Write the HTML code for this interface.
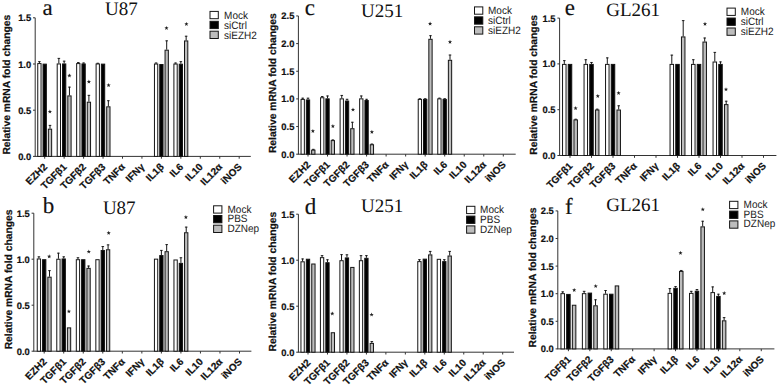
<!DOCTYPE html>
<html><head><meta charset="utf-8"><style>
html,body{margin:0;padding:0;background:#fff;}
body{width:778px;height:385px;overflow:hidden;}
svg{display:block;}
#wrap{}
text{text-rendering:geometricPrecision;}
.tk{font-family:'Liberation Sans', sans-serif;font-weight:bold;font-size:9.4px;text-anchor:end;fill:#111;stroke:#111;stroke-width:0.2px;}
.xl{font-family:'Liberation Sans', sans-serif;font-weight:bold;font-size:10px;text-anchor:end;fill:#111;stroke:#111;stroke-width:0.2px;}
.yl{font-family:'Liberation Sans', sans-serif;font-weight:bold;font-size:10.3px;text-anchor:middle;fill:#111;stroke:#111;stroke-width:0.2px;}
.lg{font-family:'Liberation Sans', sans-serif;font-size:10px;fill:#1a1a1a;}
.let{font-family:'Liberation Serif', serif;font-size:23px;fill:#111;stroke:#111;stroke-width:0.15px;}
.ttl{font-family:'Liberation Serif', serif;font-size:19px;fill:#111;}
</style></head><body>
<div id="wrap"><svg width="778" height="385" viewBox="0 0 778 385">
<rect width="778" height="385" fill="#fff"/>
<line x1="35.2" y1="17.8" x2="35.2" y2="156.4" stroke="#333" stroke-width="1"/>
<line x1="33" y1="156.4" x2="35.2" y2="156.4" stroke="#333" stroke-width="1"/>
<text x="31.2" y="159.9" class="tk">0.0</text>
<line x1="33" y1="110.2" x2="35.2" y2="110.2" stroke="#333" stroke-width="1"/>
<text x="31.2" y="113.7" class="tk">0.5</text>
<line x1="33" y1="64" x2="35.2" y2="64" stroke="#333" stroke-width="1"/>
<text x="31.2" y="67.5" class="tk">1.0</text>
<line x1="33" y1="17.8" x2="35.2" y2="17.8" stroke="#333" stroke-width="1"/>
<text x="31.2" y="21.3" class="tk">1.5</text>
<line x1="34.7" y1="156.4" x2="250.8" y2="156.4" stroke="#333" stroke-width="1"/>
<line x1="44.7" y1="156.4" x2="44.7" y2="158.7" stroke="#333" stroke-width="1"/>
<text transform="translate(47.9,167.5) rotate(-45)" class="xl">EZH2</text>
<line x1="39.4" y1="61.23" x2="39.4" y2="63.08" stroke="#151515" stroke-width="1"/>
<line x1="38.1" y1="61.63" x2="40.7" y2="61.63" stroke="#151515" stroke-width="0.9"/>
<rect x="37.75" y="63.58" width="3.3" height="92.82" fill="#fff" stroke="#151515" stroke-width="1"/>
<rect x="43.05" y="64.13" width="3.3" height="92.27" fill="#000" stroke="#151515" stroke-width="1"/>
<line x1="50" y1="124.98" x2="50" y2="128.68" stroke="#151515" stroke-width="1"/>
<line x1="48.7" y1="125.38" x2="51.3" y2="125.38" stroke="#151515" stroke-width="0.9"/>
<rect x="48.35" y="129.18" width="3.3" height="27.22" fill="#bdbdbd" stroke="#151515" stroke-width="1"/>
<line x1="64.15" y1="156.4" x2="64.15" y2="158.7" stroke="#333" stroke-width="1"/>
<text transform="translate(67.35,167.5) rotate(-45)" class="xl">TGFβ1</text>
<line x1="58.85" y1="57.99" x2="58.85" y2="63.45" stroke="#151515" stroke-width="1"/>
<line x1="57.55" y1="58.39" x2="60.15" y2="58.39" stroke="#151515" stroke-width="0.9"/>
<rect x="57.2" y="63.95" width="3.3" height="92.45" fill="#fff" stroke="#151515" stroke-width="1"/>
<line x1="64.15" y1="60.77" x2="64.15" y2="63.45" stroke="#151515" stroke-width="1"/>
<line x1="62.85" y1="61.17" x2="65.45" y2="61.17" stroke="#151515" stroke-width="0.9"/>
<rect x="62.5" y="63.95" width="3.3" height="92.45" fill="#000" stroke="#151515" stroke-width="1"/>
<line x1="69.45" y1="86.73" x2="69.45" y2="95.42" stroke="#151515" stroke-width="1"/>
<line x1="68.15" y1="87.13" x2="70.75" y2="87.13" stroke="#151515" stroke-width="0.9"/>
<rect x="67.8" y="95.92" width="3.3" height="60.48" fill="#bdbdbd" stroke="#151515" stroke-width="1"/>
<line x1="83.6" y1="156.4" x2="83.6" y2="158.7" stroke="#333" stroke-width="1"/>
<text transform="translate(86.8,167.5) rotate(-45)" class="xl">TGFβ2</text>
<line x1="78.3" y1="62.15" x2="78.3" y2="63.08" stroke="#151515" stroke-width="1"/>
<line x1="77" y1="62.55" x2="79.6" y2="62.55" stroke="#151515" stroke-width="0.9"/>
<rect x="76.65" y="63.58" width="3.3" height="92.82" fill="#fff" stroke="#151515" stroke-width="1"/>
<line x1="83.6" y1="62.61" x2="83.6" y2="63.45" stroke="#151515" stroke-width="1"/>
<line x1="82.3" y1="63.01" x2="84.9" y2="63.01" stroke="#151515" stroke-width="0.9"/>
<rect x="81.95" y="63.95" width="3.3" height="92.45" fill="#000" stroke="#151515" stroke-width="1"/>
<line x1="88.9" y1="94.95" x2="88.9" y2="101.7" stroke="#151515" stroke-width="1"/>
<line x1="87.6" y1="95.35" x2="90.2" y2="95.35" stroke="#151515" stroke-width="0.9"/>
<rect x="87.25" y="102.2" width="3.3" height="54.2" fill="#bdbdbd" stroke="#151515" stroke-width="1"/>
<line x1="103.05" y1="156.4" x2="103.05" y2="158.7" stroke="#333" stroke-width="1"/>
<text transform="translate(106.25,167.5) rotate(-45)" class="xl">TGFβ3</text>
<line x1="97.75" y1="62.89" x2="97.75" y2="63.45" stroke="#151515" stroke-width="1"/>
<line x1="96.45" y1="63.29" x2="99.05" y2="63.29" stroke="#151515" stroke-width="0.9"/>
<rect x="96.1" y="63.95" width="3.3" height="92.45" fill="#fff" stroke="#151515" stroke-width="1"/>
<rect x="101.4" y="64.13" width="3.3" height="92.27" fill="#000" stroke="#151515" stroke-width="1"/>
<line x1="108.35" y1="100.31" x2="108.35" y2="106.32" stroke="#151515" stroke-width="1"/>
<line x1="107.05" y1="100.71" x2="109.65" y2="100.71" stroke="#151515" stroke-width="0.9"/>
<rect x="106.7" y="106.82" width="3.3" height="49.58" fill="#bdbdbd" stroke="#151515" stroke-width="1"/>
<line x1="122.5" y1="156.4" x2="122.5" y2="158.7" stroke="#333" stroke-width="1"/>
<text transform="translate(125.7,167.5) rotate(-45)" class="xl">TNFα</text>
<line x1="141.95" y1="156.4" x2="141.95" y2="158.7" stroke="#333" stroke-width="1"/>
<text transform="translate(145.15,167.5) rotate(-45)" class="xl">IFNγ</text>
<line x1="161.4" y1="156.4" x2="161.4" y2="158.7" stroke="#333" stroke-width="1"/>
<text transform="translate(164.6,167.5) rotate(-45)" class="xl">IL1β</text>
<line x1="156.1" y1="62.61" x2="156.1" y2="63.54" stroke="#151515" stroke-width="1"/>
<line x1="154.8" y1="63.01" x2="157.4" y2="63.01" stroke="#151515" stroke-width="0.9"/>
<rect x="154.45" y="64.04" width="3.3" height="92.36" fill="#fff" stroke="#151515" stroke-width="1"/>
<rect x="159.75" y="64.5" width="3.3" height="91.9" fill="#000" stroke="#151515" stroke-width="1"/>
<line x1="166.7" y1="40.44" x2="166.7" y2="49.68" stroke="#151515" stroke-width="1"/>
<line x1="165.4" y1="40.84" x2="168" y2="40.84" stroke="#151515" stroke-width="0.9"/>
<rect x="165.05" y="50.18" width="3.3" height="106.22" fill="#bdbdbd" stroke="#151515" stroke-width="1"/>
<line x1="180.85" y1="156.4" x2="180.85" y2="158.7" stroke="#333" stroke-width="1"/>
<text transform="translate(184.05,167.5) rotate(-45)" class="xl">IL6</text>
<line x1="175.55" y1="62.61" x2="175.55" y2="63.54" stroke="#151515" stroke-width="1"/>
<line x1="174.25" y1="63.01" x2="176.85" y2="63.01" stroke="#151515" stroke-width="0.9"/>
<rect x="173.9" y="64.04" width="3.3" height="92.36" fill="#fff" stroke="#151515" stroke-width="1"/>
<line x1="180.85" y1="61.23" x2="180.85" y2="63.72" stroke="#151515" stroke-width="1"/>
<line x1="179.55" y1="61.63" x2="182.15" y2="61.63" stroke="#151515" stroke-width="0.9"/>
<rect x="179.2" y="64.22" width="3.3" height="92.18" fill="#000" stroke="#151515" stroke-width="1"/>
<line x1="186.15" y1="35.82" x2="186.15" y2="40.44" stroke="#151515" stroke-width="1"/>
<line x1="184.85" y1="36.22" x2="187.45" y2="36.22" stroke="#151515" stroke-width="0.9"/>
<rect x="184.5" y="40.94" width="3.3" height="115.46" fill="#bdbdbd" stroke="#151515" stroke-width="1"/>
<line x1="200.3" y1="156.4" x2="200.3" y2="158.7" stroke="#333" stroke-width="1"/>
<text transform="translate(203.5,167.5) rotate(-45)" class="xl">IL10</text>
<line x1="219.75" y1="156.4" x2="219.75" y2="158.7" stroke="#333" stroke-width="1"/>
<text transform="translate(222.95,167.5) rotate(-45)" class="xl">IL12α</text>
<line x1="239.2" y1="156.4" x2="239.2" y2="158.7" stroke="#333" stroke-width="1"/>
<text transform="translate(242.4,167.5) rotate(-45)" class="xl">iNOS</text>
<path transform="translate(49.9,111.7)" d="M0,-2.2 L0.55,-0.75 L2.1,-0.7 L0.9,0.25 L1.3,1.8 L0,0.9 L-1.3,1.8 L-0.9,0.25 L-2.1,-0.7 L-0.55,-0.75 Z" fill="#222"/>
<path transform="translate(69.4,75.6)" d="M0,-2.2 L0.55,-0.75 L2.1,-0.7 L0.9,0.25 L1.3,1.8 L0,0.9 L-1.3,1.8 L-0.9,0.25 L-2.1,-0.7 L-0.55,-0.75 Z" fill="#222"/>
<path transform="translate(88.9,81.8)" d="M0,-2.2 L0.55,-0.75 L2.1,-0.7 L0.9,0.25 L1.3,1.8 L0,0.9 L-1.3,1.8 L-0.9,0.25 L-2.1,-0.7 L-0.55,-0.75 Z" fill="#222"/>
<path transform="translate(108.6,85.3)" d="M0,-2.2 L0.55,-0.75 L2.1,-0.7 L0.9,0.25 L1.3,1.8 L0,0.9 L-1.3,1.8 L-0.9,0.25 L-2.1,-0.7 L-0.55,-0.75 Z" fill="#222"/>
<path transform="translate(166.5,28.1)" d="M0,-2.2 L0.55,-0.75 L2.1,-0.7 L0.9,0.25 L1.3,1.8 L0,0.9 L-1.3,1.8 L-0.9,0.25 L-2.1,-0.7 L-0.55,-0.75 Z" fill="#222"/>
<path transform="translate(186.4,24.1)" d="M0,-2.2 L0.55,-0.75 L2.1,-0.7 L0.9,0.25 L1.3,1.8 L0,0.9 L-1.3,1.8 L-0.9,0.25 L-2.1,-0.7 L-0.55,-0.75 Z" fill="#222"/>
<text x="42.4" y="14.9" class="let">a</text>
<text x="105" y="15.3" class="ttl">U87</text>
<rect x="210" y="11.4" width="8.3" height="7.3" fill="#fff" stroke="#151515" stroke-width="1"/>
<text transform="translate(224.1,18.7) scale(1,1.07)" class="lg">Mock</text>
<rect x="210" y="21.3" width="8.3" height="7.3" fill="#000" stroke="#151515" stroke-width="1"/>
<text transform="translate(224.1,28.6) scale(1,1.07)" class="lg">siCtrl</text>
<rect x="210" y="31.2" width="8.3" height="7.3" fill="#bdbdbd" stroke="#151515" stroke-width="1"/>
<text transform="translate(224.1,38.5) scale(1,1.07)" class="lg">siEZH2</text>
<text transform="translate(10.3,84.7) rotate(-90)" class="yl">Relative mRNA fold changes</text>
<line x1="298.4" y1="15.95" x2="298.4" y2="154.2" stroke="#333" stroke-width="1"/>
<line x1="296.2" y1="154.2" x2="298.4" y2="154.2" stroke="#333" stroke-width="1"/>
<text x="294.4" y="157.7" class="tk">0.0</text>
<line x1="296.2" y1="126.55" x2="298.4" y2="126.55" stroke="#333" stroke-width="1"/>
<text x="294.4" y="130.05" class="tk">0.5</text>
<line x1="296.2" y1="98.9" x2="298.4" y2="98.9" stroke="#333" stroke-width="1"/>
<text x="294.4" y="102.4" class="tk">1.0</text>
<line x1="296.2" y1="71.25" x2="298.4" y2="71.25" stroke="#333" stroke-width="1"/>
<text x="294.4" y="74.75" class="tk">1.5</text>
<line x1="296.2" y1="43.6" x2="298.4" y2="43.6" stroke="#333" stroke-width="1"/>
<text x="294.4" y="47.1" class="tk">2.0</text>
<line x1="296.2" y1="15.95" x2="298.4" y2="15.95" stroke="#333" stroke-width="1"/>
<text x="294.4" y="19.45" class="tk">2.5</text>
<line x1="297.9" y1="154.2" x2="515.7" y2="154.2" stroke="#333" stroke-width="1"/>
<line x1="308" y1="154.2" x2="308" y2="156.5" stroke="#333" stroke-width="1"/>
<text transform="translate(311.2,165.3) rotate(-45)" class="xl">EZH2</text>
<line x1="302.7" y1="97.79" x2="302.7" y2="98.9" stroke="#151515" stroke-width="1"/>
<line x1="301.4" y1="98.19" x2="304" y2="98.19" stroke="#151515" stroke-width="0.9"/>
<rect x="301.05" y="99.4" width="3.3" height="54.8" fill="#fff" stroke="#151515" stroke-width="1"/>
<line x1="308" y1="97.79" x2="308" y2="99.45" stroke="#151515" stroke-width="1"/>
<line x1="306.7" y1="98.19" x2="309.3" y2="98.19" stroke="#151515" stroke-width="0.9"/>
<rect x="306.35" y="99.95" width="3.3" height="54.25" fill="#000" stroke="#151515" stroke-width="1"/>
<line x1="313.3" y1="148.95" x2="313.3" y2="149.61" stroke="#151515" stroke-width="1"/>
<line x1="312" y1="149.35" x2="314.6" y2="149.35" stroke="#151515" stroke-width="0.9"/>
<rect x="311.65" y="150.11" width="3.3" height="4.09" fill="#bdbdbd" stroke="#151515" stroke-width="1"/>
<line x1="327.53" y1="154.2" x2="327.53" y2="156.5" stroke="#333" stroke-width="1"/>
<text transform="translate(330.73,165.3) rotate(-45)" class="xl">TGFβ1</text>
<line x1="322.23" y1="96.13" x2="322.23" y2="97.24" stroke="#151515" stroke-width="1"/>
<line x1="320.93" y1="96.53" x2="323.53" y2="96.53" stroke="#151515" stroke-width="0.9"/>
<rect x="320.58" y="97.74" width="3.3" height="56.46" fill="#fff" stroke="#151515" stroke-width="1"/>
<line x1="327.53" y1="95.58" x2="327.53" y2="98.35" stroke="#151515" stroke-width="1"/>
<line x1="326.23" y1="95.98" x2="328.83" y2="95.98" stroke="#151515" stroke-width="0.9"/>
<rect x="325.88" y="98.85" width="3.3" height="55.35" fill="#000" stroke="#151515" stroke-width="1"/>
<line x1="332.83" y1="139.55" x2="332.83" y2="140.1" stroke="#151515" stroke-width="1"/>
<line x1="331.53" y1="139.95" x2="334.13" y2="139.95" stroke="#151515" stroke-width="0.9"/>
<rect x="331.18" y="140.6" width="3.3" height="13.6" fill="#bdbdbd" stroke="#151515" stroke-width="1"/>
<line x1="347.06" y1="154.2" x2="347.06" y2="156.5" stroke="#333" stroke-width="1"/>
<text transform="translate(350.26,165.3) rotate(-45)" class="xl">TGFβ2</text>
<line x1="341.76" y1="95.03" x2="341.76" y2="98.35" stroke="#151515" stroke-width="1"/>
<line x1="340.46" y1="95.43" x2="343.06" y2="95.43" stroke="#151515" stroke-width="0.9"/>
<rect x="340.11" y="98.85" width="3.3" height="55.35" fill="#fff" stroke="#151515" stroke-width="1"/>
<line x1="347.06" y1="98.9" x2="347.06" y2="100.56" stroke="#151515" stroke-width="1"/>
<line x1="345.76" y1="99.3" x2="348.36" y2="99.3" stroke="#151515" stroke-width="0.9"/>
<rect x="345.41" y="101.06" width="3.3" height="53.14" fill="#000" stroke="#151515" stroke-width="1"/>
<line x1="352.36" y1="121.85" x2="352.36" y2="128.21" stroke="#151515" stroke-width="1"/>
<line x1="351.06" y1="122.25" x2="353.66" y2="122.25" stroke="#151515" stroke-width="0.9"/>
<rect x="350.71" y="128.71" width="3.3" height="25.49" fill="#bdbdbd" stroke="#151515" stroke-width="1"/>
<line x1="366.59" y1="154.2" x2="366.59" y2="156.5" stroke="#333" stroke-width="1"/>
<text transform="translate(369.79,165.3) rotate(-45)" class="xl">TGFβ3</text>
<line x1="361.29" y1="95.58" x2="361.29" y2="98.35" stroke="#151515" stroke-width="1"/>
<line x1="359.99" y1="95.98" x2="362.59" y2="95.98" stroke="#151515" stroke-width="0.9"/>
<rect x="359.64" y="98.85" width="3.3" height="55.35" fill="#fff" stroke="#151515" stroke-width="1"/>
<line x1="366.59" y1="98.9" x2="366.59" y2="100.01" stroke="#151515" stroke-width="1"/>
<line x1="365.29" y1="99.3" x2="367.89" y2="99.3" stroke="#151515" stroke-width="0.9"/>
<rect x="364.94" y="100.51" width="3.3" height="53.69" fill="#000" stroke="#151515" stroke-width="1"/>
<line x1="371.89" y1="143.69" x2="371.89" y2="144.25" stroke="#151515" stroke-width="1"/>
<line x1="370.59" y1="144.09" x2="373.19" y2="144.09" stroke="#151515" stroke-width="0.9"/>
<rect x="370.24" y="144.75" width="3.3" height="9.45" fill="#bdbdbd" stroke="#151515" stroke-width="1"/>
<line x1="386.12" y1="154.2" x2="386.12" y2="156.5" stroke="#333" stroke-width="1"/>
<text transform="translate(389.32,165.3) rotate(-45)" class="xl">TNFα</text>
<line x1="405.65" y1="154.2" x2="405.65" y2="156.5" stroke="#333" stroke-width="1"/>
<text transform="translate(408.85,165.3) rotate(-45)" class="xl">IFNγ</text>
<line x1="425.18" y1="154.2" x2="425.18" y2="156.5" stroke="#333" stroke-width="1"/>
<text transform="translate(428.38,165.3) rotate(-45)" class="xl">IL1β</text>
<line x1="419.88" y1="98.35" x2="419.88" y2="98.9" stroke="#151515" stroke-width="1"/>
<line x1="418.58" y1="98.75" x2="421.18" y2="98.75" stroke="#151515" stroke-width="0.9"/>
<rect x="418.23" y="99.4" width="3.3" height="54.8" fill="#fff" stroke="#151515" stroke-width="1"/>
<line x1="425.18" y1="98.35" x2="425.18" y2="98.9" stroke="#151515" stroke-width="1"/>
<line x1="423.88" y1="98.75" x2="426.48" y2="98.75" stroke="#151515" stroke-width="0.9"/>
<rect x="423.53" y="99.4" width="3.3" height="54.8" fill="#000" stroke="#151515" stroke-width="1"/>
<line x1="430.48" y1="35.3" x2="430.48" y2="38.79" stroke="#151515" stroke-width="1"/>
<line x1="429.18" y1="35.7" x2="431.78" y2="35.7" stroke="#151515" stroke-width="0.9"/>
<rect x="428.83" y="39.29" width="3.3" height="114.91" fill="#bdbdbd" stroke="#151515" stroke-width="1"/>
<line x1="444.71" y1="154.2" x2="444.71" y2="156.5" stroke="#333" stroke-width="1"/>
<text transform="translate(447.91,165.3) rotate(-45)" class="xl">IL6</text>
<line x1="439.41" y1="97.79" x2="439.41" y2="98.35" stroke="#151515" stroke-width="1"/>
<line x1="438.11" y1="98.19" x2="440.71" y2="98.19" stroke="#151515" stroke-width="0.9"/>
<rect x="437.76" y="98.85" width="3.3" height="55.35" fill="#fff" stroke="#151515" stroke-width="1"/>
<line x1="444.71" y1="98.35" x2="444.71" y2="98.9" stroke="#151515" stroke-width="1"/>
<line x1="443.41" y1="98.75" x2="446.01" y2="98.75" stroke="#151515" stroke-width="0.9"/>
<rect x="443.06" y="99.4" width="3.3" height="54.8" fill="#000" stroke="#151515" stroke-width="1"/>
<line x1="450.01" y1="54.66" x2="450.01" y2="59.8" stroke="#151515" stroke-width="1"/>
<line x1="448.71" y1="55.06" x2="451.31" y2="55.06" stroke="#151515" stroke-width="0.9"/>
<rect x="448.36" y="60.3" width="3.3" height="93.9" fill="#bdbdbd" stroke="#151515" stroke-width="1"/>
<line x1="464.24" y1="154.2" x2="464.24" y2="156.5" stroke="#333" stroke-width="1"/>
<text transform="translate(467.44,165.3) rotate(-45)" class="xl">IL10</text>
<line x1="483.77" y1="154.2" x2="483.77" y2="156.5" stroke="#333" stroke-width="1"/>
<text transform="translate(486.97,165.3) rotate(-45)" class="xl">IL12α</text>
<line x1="503.3" y1="154.2" x2="503.3" y2="156.5" stroke="#333" stroke-width="1"/>
<text transform="translate(506.5,165.3) rotate(-45)" class="xl">iNOS</text>
<path transform="translate(312.9,131.1)" d="M0,-2.2 L0.55,-0.75 L2.1,-0.7 L0.9,0.25 L1.3,1.8 L0,0.9 L-1.3,1.8 L-0.9,0.25 L-2.1,-0.7 L-0.55,-0.75 Z" fill="#222"/>
<path transform="translate(332.9,126.3)" d="M0,-2.2 L0.55,-0.75 L2.1,-0.7 L0.9,0.25 L1.3,1.8 L0,0.9 L-1.3,1.8 L-0.9,0.25 L-2.1,-0.7 L-0.55,-0.75 Z" fill="#222"/>
<path transform="translate(353,109.7)" d="M0,-2.2 L0.55,-0.75 L2.1,-0.7 L0.9,0.25 L1.3,1.8 L0,0.9 L-1.3,1.8 L-0.9,0.25 L-2.1,-0.7 L-0.55,-0.75 Z" fill="#222"/>
<path transform="translate(371.9,132)" d="M0,-2.2 L0.55,-0.75 L2.1,-0.7 L0.9,0.25 L1.3,1.8 L0,0.9 L-1.3,1.8 L-0.9,0.25 L-2.1,-0.7 L-0.55,-0.75 Z" fill="#222"/>
<path transform="translate(430.1,23.8)" d="M0,-2.2 L0.55,-0.75 L2.1,-0.7 L0.9,0.25 L1.3,1.8 L0,0.9 L-1.3,1.8 L-0.9,0.25 L-2.1,-0.7 L-0.55,-0.75 Z" fill="#222"/>
<path transform="translate(450,42)" d="M0,-2.2 L0.55,-0.75 L2.1,-0.7 L0.9,0.25 L1.3,1.8 L0,0.9 L-1.3,1.8 L-0.9,0.25 L-2.1,-0.7 L-0.55,-0.75 Z" fill="#222"/>
<text x="304.8" y="15" class="let">c</text>
<text x="361.1" y="16.5" class="ttl">U251</text>
<rect x="474.5" y="6.9" width="8.3" height="7.3" fill="#fff" stroke="#151515" stroke-width="1"/>
<text transform="translate(488,13.8) scale(1,1.07)" class="lg">Mock</text>
<rect x="474.5" y="16.85" width="8.3" height="7.3" fill="#000" stroke="#151515" stroke-width="1"/>
<text transform="translate(488,23.75) scale(1,1.07)" class="lg">siCtrl</text>
<rect x="474.5" y="26.8" width="8.3" height="7.3" fill="#bdbdbd" stroke="#151515" stroke-width="1"/>
<text transform="translate(488,33.7) scale(1,1.07)" class="lg">siEZH2</text>
<text transform="translate(275.9,83.2) rotate(-90)" class="yl">Relative mRNA fold changes</text>
<line x1="559.6" y1="18.1" x2="559.6" y2="155.5" stroke="#333" stroke-width="1"/>
<line x1="557.4" y1="155.5" x2="559.6" y2="155.5" stroke="#333" stroke-width="1"/>
<text x="555.6" y="159" class="tk">0.0</text>
<line x1="557.4" y1="109.7" x2="559.6" y2="109.7" stroke="#333" stroke-width="1"/>
<text x="555.6" y="113.2" class="tk">0.5</text>
<line x1="557.4" y1="63.9" x2="559.6" y2="63.9" stroke="#333" stroke-width="1"/>
<text x="555.6" y="67.4" class="tk">1.0</text>
<line x1="557.4" y1="18.1" x2="559.6" y2="18.1" stroke="#333" stroke-width="1"/>
<text x="555.6" y="21.6" class="tk">1.5</text>
<line x1="559.1" y1="155.5" x2="776.4" y2="155.5" stroke="#333" stroke-width="1"/>
<line x1="570" y1="155.5" x2="570" y2="157.8" stroke="#333" stroke-width="1"/>
<text transform="translate(573.2,166.6) rotate(-45)" class="xl">TGFβ1</text>
<line x1="564.3" y1="60.24" x2="564.3" y2="63.9" stroke="#151515" stroke-width="1"/>
<line x1="563" y1="60.64" x2="565.6" y2="60.64" stroke="#151515" stroke-width="0.9"/>
<rect x="562.55" y="64.4" width="3.5" height="91.1" fill="#fff" stroke="#151515" stroke-width="1"/>
<rect x="568.25" y="64.4" width="3.5" height="91.1" fill="#000" stroke="#151515" stroke-width="1"/>
<line x1="575.7" y1="118.86" x2="575.7" y2="119.41" stroke="#151515" stroke-width="1"/>
<line x1="574.4" y1="119.26" x2="577" y2="119.26" stroke="#151515" stroke-width="0.9"/>
<rect x="573.95" y="119.91" width="3.5" height="35.59" fill="#bdbdbd" stroke="#151515" stroke-width="1"/>
<line x1="591.5" y1="155.5" x2="591.5" y2="157.8" stroke="#333" stroke-width="1"/>
<text transform="translate(594.7,166.6) rotate(-45)" class="xl">TGFβ2</text>
<line x1="585.8" y1="59.32" x2="585.8" y2="63.9" stroke="#151515" stroke-width="1"/>
<line x1="584.5" y1="59.72" x2="587.1" y2="59.72" stroke="#151515" stroke-width="0.9"/>
<rect x="584.05" y="64.4" width="3.5" height="91.1" fill="#fff" stroke="#151515" stroke-width="1"/>
<line x1="591.5" y1="62.07" x2="591.5" y2="63.9" stroke="#151515" stroke-width="1"/>
<line x1="590.2" y1="62.47" x2="592.8" y2="62.47" stroke="#151515" stroke-width="0.9"/>
<rect x="589.75" y="64.4" width="3.5" height="91.1" fill="#000" stroke="#151515" stroke-width="1"/>
<line x1="597.2" y1="108.78" x2="597.2" y2="109.52" stroke="#151515" stroke-width="1"/>
<line x1="595.9" y1="109.18" x2="598.5" y2="109.18" stroke="#151515" stroke-width="0.9"/>
<rect x="595.45" y="110.02" width="3.5" height="45.48" fill="#bdbdbd" stroke="#151515" stroke-width="1"/>
<line x1="613" y1="155.5" x2="613" y2="157.8" stroke="#333" stroke-width="1"/>
<text transform="translate(616.2,166.6) rotate(-45)" class="xl">TGFβ3</text>
<line x1="607.3" y1="57.49" x2="607.3" y2="63.9" stroke="#151515" stroke-width="1"/>
<line x1="606" y1="57.89" x2="608.6" y2="57.89" stroke="#151515" stroke-width="0.9"/>
<rect x="605.55" y="64.4" width="3.5" height="91.1" fill="#fff" stroke="#151515" stroke-width="1"/>
<rect x="611.25" y="64.4" width="3.5" height="91.1" fill="#000" stroke="#151515" stroke-width="1"/>
<line x1="618.7" y1="105.39" x2="618.7" y2="109.52" stroke="#151515" stroke-width="1"/>
<line x1="617.4" y1="105.79" x2="620" y2="105.79" stroke="#151515" stroke-width="0.9"/>
<rect x="616.95" y="110.02" width="3.5" height="45.48" fill="#bdbdbd" stroke="#151515" stroke-width="1"/>
<line x1="634.5" y1="155.5" x2="634.5" y2="157.8" stroke="#333" stroke-width="1"/>
<text transform="translate(637.7,166.6) rotate(-45)" class="xl">TNFα</text>
<line x1="656" y1="155.5" x2="656" y2="157.8" stroke="#333" stroke-width="1"/>
<text transform="translate(659.2,166.6) rotate(-45)" class="xl">IFNγ</text>
<line x1="677.5" y1="155.5" x2="677.5" y2="157.8" stroke="#333" stroke-width="1"/>
<text transform="translate(680.7,166.6) rotate(-45)" class="xl">IL1β</text>
<line x1="671.8" y1="54.74" x2="671.8" y2="63.9" stroke="#151515" stroke-width="1"/>
<line x1="670.5" y1="55.14" x2="673.1" y2="55.14" stroke="#151515" stroke-width="0.9"/>
<rect x="670.05" y="64.4" width="3.5" height="91.1" fill="#fff" stroke="#151515" stroke-width="1"/>
<rect x="675.75" y="64.4" width="3.5" height="91.1" fill="#000" stroke="#151515" stroke-width="1"/>
<line x1="683.2" y1="20.21" x2="683.2" y2="36.42" stroke="#151515" stroke-width="1"/>
<line x1="681.9" y1="20.61" x2="684.5" y2="20.61" stroke="#151515" stroke-width="0.9"/>
<rect x="681.45" y="36.92" width="3.5" height="118.58" fill="#bdbdbd" stroke="#151515" stroke-width="1"/>
<line x1="699" y1="155.5" x2="699" y2="157.8" stroke="#333" stroke-width="1"/>
<text transform="translate(702.2,166.6) rotate(-45)" class="xl">IL6</text>
<line x1="693.3" y1="59.32" x2="693.3" y2="63.9" stroke="#151515" stroke-width="1"/>
<line x1="692" y1="59.72" x2="694.6" y2="59.72" stroke="#151515" stroke-width="0.9"/>
<rect x="691.55" y="64.4" width="3.5" height="91.1" fill="#fff" stroke="#151515" stroke-width="1"/>
<rect x="697.25" y="64.4" width="3.5" height="91.1" fill="#000" stroke="#151515" stroke-width="1"/>
<line x1="704.7" y1="37.61" x2="704.7" y2="41.55" stroke="#151515" stroke-width="1"/>
<line x1="703.4" y1="38.01" x2="706" y2="38.01" stroke="#151515" stroke-width="0.9"/>
<rect x="702.95" y="42.05" width="3.5" height="113.45" fill="#bdbdbd" stroke="#151515" stroke-width="1"/>
<line x1="720.5" y1="155.5" x2="720.5" y2="157.8" stroke="#333" stroke-width="1"/>
<text transform="translate(723.7,166.6) rotate(-45)" class="xl">IL10</text>
<line x1="714.8" y1="51.99" x2="714.8" y2="61.52" stroke="#151515" stroke-width="1"/>
<line x1="713.5" y1="52.39" x2="716.1" y2="52.39" stroke="#151515" stroke-width="0.9"/>
<rect x="713.05" y="62.02" width="3.5" height="93.48" fill="#fff" stroke="#151515" stroke-width="1"/>
<line x1="720.5" y1="61.52" x2="720.5" y2="63.9" stroke="#151515" stroke-width="1"/>
<line x1="719.2" y1="61.92" x2="721.8" y2="61.92" stroke="#151515" stroke-width="0.9"/>
<rect x="718.75" y="64.4" width="3.5" height="91.1" fill="#000" stroke="#151515" stroke-width="1"/>
<line x1="726.2" y1="100.81" x2="726.2" y2="104.11" stroke="#151515" stroke-width="1"/>
<line x1="724.9" y1="101.21" x2="727.5" y2="101.21" stroke="#151515" stroke-width="0.9"/>
<rect x="724.45" y="104.61" width="3.5" height="50.89" fill="#bdbdbd" stroke="#151515" stroke-width="1"/>
<line x1="742" y1="155.5" x2="742" y2="157.8" stroke="#333" stroke-width="1"/>
<text transform="translate(745.2,166.6) rotate(-45)" class="xl">IL12α</text>
<line x1="763.5" y1="155.5" x2="763.5" y2="157.8" stroke="#333" stroke-width="1"/>
<text transform="translate(766.7,166.6) rotate(-45)" class="xl">iNOS</text>
<path transform="translate(575.6,108.3)" d="M0,-2.2 L0.55,-0.75 L2.1,-0.7 L0.9,0.25 L1.3,1.8 L0,0.9 L-1.3,1.8 L-0.9,0.25 L-2.1,-0.7 L-0.55,-0.75 Z" fill="#222"/>
<path transform="translate(597.8,96.1)" d="M0,-2.2 L0.55,-0.75 L2.1,-0.7 L0.9,0.25 L1.3,1.8 L0,0.9 L-1.3,1.8 L-0.9,0.25 L-2.1,-0.7 L-0.55,-0.75 Z" fill="#222"/>
<path transform="translate(618.6,93.1)" d="M0,-2.2 L0.55,-0.75 L2.1,-0.7 L0.9,0.25 L1.3,1.8 L0,0.9 L-1.3,1.8 L-0.9,0.25 L-2.1,-0.7 L-0.55,-0.75 Z" fill="#222"/>
<path transform="translate(705,24)" d="M0,-2.2 L0.55,-0.75 L2.1,-0.7 L0.9,0.25 L1.3,1.8 L0,0.9 L-1.3,1.8 L-0.9,0.25 L-2.1,-0.7 L-0.55,-0.75 Z" fill="#222"/>
<path transform="translate(726,89.4)" d="M0,-2.2 L0.55,-0.75 L2.1,-0.7 L0.9,0.25 L1.3,1.8 L0,0.9 L-1.3,1.8 L-0.9,0.25 L-2.1,-0.7 L-0.55,-0.75 Z" fill="#222"/>
<text x="564.8" y="15.1" class="let">e</text>
<text x="606.3" y="16.2" class="ttl">GL261</text>
<rect x="727" y="8.1" width="8.3" height="7.3" fill="#fff" stroke="#151515" stroke-width="1"/>
<text transform="translate(740.8,15) scale(1,1.07)" class="lg">Mock</text>
<rect x="727" y="18.05" width="8.3" height="7.3" fill="#000" stroke="#151515" stroke-width="1"/>
<text transform="translate(740.8,24.95) scale(1,1.07)" class="lg">siCtrl</text>
<rect x="727" y="28" width="8.3" height="7.3" fill="#bdbdbd" stroke="#151515" stroke-width="1"/>
<text transform="translate(740.8,34.9) scale(1,1.07)" class="lg">siEZH2</text>
<text transform="translate(537.2,84.8) rotate(-90)" class="yl">Relative mRNA fold changes</text>
<line x1="33.8" y1="213.2" x2="33.8" y2="351.2" stroke="#333" stroke-width="1"/>
<line x1="31.6" y1="351.2" x2="33.8" y2="351.2" stroke="#333" stroke-width="1"/>
<text x="29.8" y="354.7" class="tk">0.0</text>
<line x1="31.6" y1="305.2" x2="33.8" y2="305.2" stroke="#333" stroke-width="1"/>
<text x="29.8" y="308.7" class="tk">0.5</text>
<line x1="31.6" y1="259.2" x2="33.8" y2="259.2" stroke="#333" stroke-width="1"/>
<text x="29.8" y="262.7" class="tk">1.0</text>
<line x1="31.6" y1="213.2" x2="33.8" y2="213.2" stroke="#333" stroke-width="1"/>
<text x="29.8" y="216.7" class="tk">1.5</text>
<line x1="33.3" y1="351.2" x2="251.4" y2="351.2" stroke="#333" stroke-width="1"/>
<line x1="44.2" y1="351.2" x2="44.2" y2="353.5" stroke="#333" stroke-width="1"/>
<text transform="translate(47.4,362.3) rotate(-45)" class="xl">EZH2</text>
<line x1="38.9" y1="256.44" x2="38.9" y2="258.46" stroke="#151515" stroke-width="1"/>
<line x1="37.6" y1="256.84" x2="40.2" y2="256.84" stroke="#151515" stroke-width="0.9"/>
<rect x="37.25" y="258.96" width="3.3" height="92.24" fill="#fff" stroke="#151515" stroke-width="1"/>
<rect x="42.55" y="259.7" width="3.3" height="91.5" fill="#000" stroke="#151515" stroke-width="1"/>
<line x1="49.5" y1="270.24" x2="49.5" y2="276.68" stroke="#151515" stroke-width="1"/>
<line x1="48.2" y1="270.64" x2="50.8" y2="270.64" stroke="#151515" stroke-width="0.9"/>
<rect x="47.85" y="277.18" width="3.3" height="74.02" fill="#bdbdbd" stroke="#151515" stroke-width="1"/>
<line x1="63.73" y1="351.2" x2="63.73" y2="353.5" stroke="#333" stroke-width="1"/>
<text transform="translate(66.93,362.3) rotate(-45)" class="xl">TGFβ1</text>
<line x1="58.43" y1="252.76" x2="58.43" y2="258.74" stroke="#151515" stroke-width="1"/>
<line x1="57.13" y1="253.16" x2="59.73" y2="253.16" stroke="#151515" stroke-width="0.9"/>
<rect x="56.78" y="259.24" width="3.3" height="91.96" fill="#fff" stroke="#151515" stroke-width="1"/>
<line x1="63.73" y1="256.44" x2="63.73" y2="258.46" stroke="#151515" stroke-width="1"/>
<line x1="62.43" y1="256.84" x2="65.03" y2="256.84" stroke="#151515" stroke-width="0.9"/>
<rect x="62.08" y="258.96" width="3.3" height="92.24" fill="#000" stroke="#151515" stroke-width="1"/>
<rect x="67.38" y="327.87" width="3.3" height="23.33" fill="#bdbdbd" stroke="#151515" stroke-width="1"/>
<line x1="83.26" y1="351.2" x2="83.26" y2="353.5" stroke="#333" stroke-width="1"/>
<text transform="translate(86.46,362.3) rotate(-45)" class="xl">TGFβ2</text>
<line x1="77.96" y1="257.36" x2="77.96" y2="259.2" stroke="#151515" stroke-width="1"/>
<line x1="76.66" y1="257.76" x2="79.26" y2="257.76" stroke="#151515" stroke-width="0.9"/>
<rect x="76.31" y="259.7" width="3.3" height="91.5" fill="#fff" stroke="#151515" stroke-width="1"/>
<rect x="81.61" y="259.7" width="3.3" height="91.5" fill="#000" stroke="#151515" stroke-width="1"/>
<line x1="88.56" y1="265.64" x2="88.56" y2="267.85" stroke="#151515" stroke-width="1"/>
<line x1="87.26" y1="266.04" x2="89.86" y2="266.04" stroke="#151515" stroke-width="0.9"/>
<rect x="86.91" y="268.35" width="3.3" height="82.85" fill="#bdbdbd" stroke="#151515" stroke-width="1"/>
<line x1="102.79" y1="351.2" x2="102.79" y2="353.5" stroke="#333" stroke-width="1"/>
<text transform="translate(105.99,362.3) rotate(-45)" class="xl">TGFβ3</text>
<rect x="95.84" y="259.7" width="3.3" height="91.5" fill="#fff" stroke="#151515" stroke-width="1"/>
<line x1="102.79" y1="246.14" x2="102.79" y2="250" stroke="#151515" stroke-width="1"/>
<line x1="101.49" y1="246.54" x2="104.09" y2="246.54" stroke="#151515" stroke-width="0.9"/>
<rect x="101.14" y="250.5" width="3.3" height="100.7" fill="#000" stroke="#151515" stroke-width="1"/>
<line x1="108.09" y1="244.48" x2="108.09" y2="249.26" stroke="#151515" stroke-width="1"/>
<line x1="106.79" y1="244.88" x2="109.39" y2="244.88" stroke="#151515" stroke-width="0.9"/>
<rect x="106.44" y="249.76" width="3.3" height="101.44" fill="#bdbdbd" stroke="#151515" stroke-width="1"/>
<line x1="122.32" y1="351.2" x2="122.32" y2="353.5" stroke="#333" stroke-width="1"/>
<text transform="translate(125.52,362.3) rotate(-45)" class="xl">TNFα</text>
<line x1="141.85" y1="351.2" x2="141.85" y2="353.5" stroke="#333" stroke-width="1"/>
<text transform="translate(145.05,362.3) rotate(-45)" class="xl">IFNγ</text>
<line x1="161.38" y1="351.2" x2="161.38" y2="353.5" stroke="#333" stroke-width="1"/>
<text transform="translate(164.58,362.3) rotate(-45)" class="xl">IL1β</text>
<rect x="154.43" y="259.15" width="3.3" height="92.05" fill="#fff" stroke="#151515" stroke-width="1"/>
<line x1="161.38" y1="250" x2="161.38" y2="255.06" stroke="#151515" stroke-width="1"/>
<line x1="160.08" y1="250.4" x2="162.68" y2="250.4" stroke="#151515" stroke-width="0.9"/>
<rect x="159.73" y="255.56" width="3.3" height="95.64" fill="#000" stroke="#151515" stroke-width="1"/>
<line x1="166.68" y1="244.2" x2="166.68" y2="251.2" stroke="#151515" stroke-width="1"/>
<line x1="165.38" y1="244.6" x2="167.98" y2="244.6" stroke="#151515" stroke-width="0.9"/>
<rect x="165.03" y="251.7" width="3.3" height="99.5" fill="#bdbdbd" stroke="#151515" stroke-width="1"/>
<line x1="180.91" y1="351.2" x2="180.91" y2="353.5" stroke="#333" stroke-width="1"/>
<text transform="translate(184.11,362.3) rotate(-45)" class="xl">IL6</text>
<rect x="173.96" y="259.98" width="3.3" height="91.22" fill="#fff" stroke="#151515" stroke-width="1"/>
<line x1="180.91" y1="257.36" x2="180.91" y2="262.88" stroke="#151515" stroke-width="1"/>
<line x1="179.61" y1="257.76" x2="182.21" y2="257.76" stroke="#151515" stroke-width="0.9"/>
<rect x="179.26" y="263.38" width="3.3" height="87.82" fill="#000" stroke="#151515" stroke-width="1"/>
<line x1="186.21" y1="226.72" x2="186.21" y2="232.24" stroke="#151515" stroke-width="1"/>
<line x1="184.91" y1="227.12" x2="187.51" y2="227.12" stroke="#151515" stroke-width="0.9"/>
<rect x="184.56" y="232.74" width="3.3" height="118.46" fill="#bdbdbd" stroke="#151515" stroke-width="1"/>
<line x1="200.44" y1="351.2" x2="200.44" y2="353.5" stroke="#333" stroke-width="1"/>
<text transform="translate(203.64,362.3) rotate(-45)" class="xl">IL10</text>
<line x1="219.97" y1="351.2" x2="219.97" y2="353.5" stroke="#333" stroke-width="1"/>
<text transform="translate(223.17,362.3) rotate(-45)" class="xl">IL12α</text>
<line x1="239.5" y1="351.2" x2="239.5" y2="353.5" stroke="#333" stroke-width="1"/>
<text transform="translate(242.7,362.3) rotate(-45)" class="xl">iNOS</text>
<path transform="translate(49.2,256.5)" d="M0,-2.2 L0.55,-0.75 L2.1,-0.7 L0.9,0.25 L1.3,1.8 L0,0.9 L-1.3,1.8 L-0.9,0.25 L-2.1,-0.7 L-0.55,-0.75 Z" fill="#222"/>
<path transform="translate(68.9,311.4)" d="M0,-2.2 L0.55,-0.75 L2.1,-0.7 L0.9,0.25 L1.3,1.8 L0,0.9 L-1.3,1.8 L-0.9,0.25 L-2.1,-0.7 L-0.55,-0.75 Z" fill="#222"/>
<path transform="translate(88.8,251.7)" d="M0,-2.2 L0.55,-0.75 L2.1,-0.7 L0.9,0.25 L1.3,1.8 L0,0.9 L-1.3,1.8 L-0.9,0.25 L-2.1,-0.7 L-0.55,-0.75 Z" fill="#222"/>
<path transform="translate(108.7,233)" d="M0,-2.2 L0.55,-0.75 L2.1,-0.7 L0.9,0.25 L1.3,1.8 L0,0.9 L-1.3,1.8 L-0.9,0.25 L-2.1,-0.7 L-0.55,-0.75 Z" fill="#222"/>
<path transform="translate(185.9,217.3)" d="M0,-2.2 L0.55,-0.75 L2.1,-0.7 L0.9,0.25 L1.3,1.8 L0,0.9 L-1.3,1.8 L-0.9,0.25 L-2.1,-0.7 L-0.55,-0.75 Z" fill="#222"/>
<text x="42.7" y="213.3" class="let">b</text>
<text x="102.9" y="213.5" class="ttl">U87</text>
<rect x="213.6" y="205.8" width="8.3" height="7.3" fill="#fff" stroke="#151515" stroke-width="1"/>
<text transform="translate(227.5,212.5) scale(1,1.07)" class="lg">Mock</text>
<rect x="213.6" y="215.5" width="8.3" height="7.3" fill="#000" stroke="#151515" stroke-width="1"/>
<text transform="translate(227.5,222.2) scale(1,1.07)" class="lg">PBS</text>
<rect x="213.6" y="225.2" width="8.3" height="7.3" fill="#bdbdbd" stroke="#151515" stroke-width="1"/>
<text transform="translate(227.5,231.9) scale(1,1.07)" class="lg">DZNep</text>
<text transform="translate(11.5,279.45) rotate(-90)" class="yl">Relative mRNA fold changes</text>
<line x1="298.4" y1="214.2" x2="298.4" y2="352.2" stroke="#333" stroke-width="1"/>
<line x1="296.2" y1="352.2" x2="298.4" y2="352.2" stroke="#333" stroke-width="1"/>
<text x="294.4" y="355.7" class="tk">0.0</text>
<line x1="296.2" y1="306.2" x2="298.4" y2="306.2" stroke="#333" stroke-width="1"/>
<text x="294.4" y="309.7" class="tk">0.5</text>
<line x1="296.2" y1="260.2" x2="298.4" y2="260.2" stroke="#333" stroke-width="1"/>
<text x="294.4" y="263.7" class="tk">1.0</text>
<line x1="296.2" y1="214.2" x2="298.4" y2="214.2" stroke="#333" stroke-width="1"/>
<text x="294.4" y="217.7" class="tk">1.5</text>
<line x1="297.9" y1="352.2" x2="514" y2="352.2" stroke="#333" stroke-width="1"/>
<line x1="308" y1="352.2" x2="308" y2="354.5" stroke="#333" stroke-width="1"/>
<text transform="translate(311.2,363.3) rotate(-45)" class="xl">EZH2</text>
<line x1="302.6" y1="258.54" x2="302.6" y2="261.3" stroke="#151515" stroke-width="1"/>
<line x1="301.3" y1="258.94" x2="303.9" y2="258.94" stroke="#151515" stroke-width="0.9"/>
<rect x="300.95" y="261.8" width="3.3" height="90.4" fill="#fff" stroke="#151515" stroke-width="1"/>
<rect x="306.35" y="259.23" width="3.3" height="92.97" fill="#000" stroke="#151515" stroke-width="1"/>
<rect x="311.75" y="264.01" width="3.3" height="88.19" fill="#bdbdbd" stroke="#151515" stroke-width="1"/>
<line x1="327.47" y1="352.2" x2="327.47" y2="354.5" stroke="#333" stroke-width="1"/>
<text transform="translate(330.67,363.3) rotate(-45)" class="xl">TGFβ1</text>
<line x1="322.07" y1="255.23" x2="322.07" y2="257.16" stroke="#151515" stroke-width="1"/>
<line x1="320.77" y1="255.63" x2="323.37" y2="255.63" stroke="#151515" stroke-width="0.9"/>
<rect x="320.42" y="257.66" width="3.3" height="94.54" fill="#fff" stroke="#151515" stroke-width="1"/>
<line x1="327.47" y1="259.37" x2="327.47" y2="262.22" stroke="#151515" stroke-width="1"/>
<line x1="326.17" y1="259.77" x2="328.77" y2="259.77" stroke="#151515" stroke-width="0.9"/>
<rect x="325.82" y="262.72" width="3.3" height="89.48" fill="#000" stroke="#151515" stroke-width="1"/>
<rect x="331.22" y="332.74" width="3.3" height="19.46" fill="#bdbdbd" stroke="#151515" stroke-width="1"/>
<line x1="346.94" y1="352.2" x2="346.94" y2="354.5" stroke="#333" stroke-width="1"/>
<text transform="translate(350.14,363.3) rotate(-45)" class="xl">TGFβ2</text>
<line x1="341.54" y1="254.22" x2="341.54" y2="260.2" stroke="#151515" stroke-width="1"/>
<line x1="340.24" y1="254.62" x2="342.84" y2="254.62" stroke="#151515" stroke-width="0.9"/>
<rect x="339.89" y="260.7" width="3.3" height="91.5" fill="#fff" stroke="#151515" stroke-width="1"/>
<line x1="346.94" y1="254.4" x2="346.94" y2="257.44" stroke="#151515" stroke-width="1"/>
<line x1="345.64" y1="254.8" x2="348.24" y2="254.8" stroke="#151515" stroke-width="0.9"/>
<rect x="345.29" y="257.94" width="3.3" height="94.26" fill="#000" stroke="#151515" stroke-width="1"/>
<rect x="350.69" y="267.42" width="3.3" height="84.78" fill="#bdbdbd" stroke="#151515" stroke-width="1"/>
<line x1="366.41" y1="352.2" x2="366.41" y2="354.5" stroke="#333" stroke-width="1"/>
<text transform="translate(369.61,363.3) rotate(-45)" class="xl">TGFβ3</text>
<line x1="361.01" y1="255.23" x2="361.01" y2="260.2" stroke="#151515" stroke-width="1"/>
<line x1="359.71" y1="255.63" x2="362.31" y2="255.63" stroke="#151515" stroke-width="0.9"/>
<rect x="359.36" y="260.7" width="3.3" height="91.5" fill="#fff" stroke="#151515" stroke-width="1"/>
<line x1="366.41" y1="255.23" x2="366.41" y2="257.81" stroke="#151515" stroke-width="1"/>
<line x1="365.11" y1="255.63" x2="367.71" y2="255.63" stroke="#151515" stroke-width="0.9"/>
<rect x="364.76" y="258.31" width="3.3" height="93.89" fill="#000" stroke="#151515" stroke-width="1"/>
<line x1="371.81" y1="341.16" x2="371.81" y2="342.91" stroke="#151515" stroke-width="1"/>
<line x1="370.51" y1="341.56" x2="373.11" y2="341.56" stroke="#151515" stroke-width="0.9"/>
<rect x="370.16" y="343.41" width="3.3" height="8.79" fill="#bdbdbd" stroke="#151515" stroke-width="1"/>
<line x1="385.88" y1="352.2" x2="385.88" y2="354.5" stroke="#333" stroke-width="1"/>
<text transform="translate(389.08,363.3) rotate(-45)" class="xl">TNFα</text>
<line x1="405.35" y1="352.2" x2="405.35" y2="354.5" stroke="#333" stroke-width="1"/>
<text transform="translate(408.55,363.3) rotate(-45)" class="xl">IFNγ</text>
<line x1="424.82" y1="352.2" x2="424.82" y2="354.5" stroke="#333" stroke-width="1"/>
<text transform="translate(428.02,363.3) rotate(-45)" class="xl">IL1β</text>
<line x1="419.42" y1="259.28" x2="419.42" y2="261.12" stroke="#151515" stroke-width="1"/>
<line x1="418.12" y1="259.68" x2="420.72" y2="259.68" stroke="#151515" stroke-width="0.9"/>
<rect x="417.77" y="261.62" width="3.3" height="90.58" fill="#fff" stroke="#151515" stroke-width="1"/>
<rect x="423.17" y="259.14" width="3.3" height="93.06" fill="#000" stroke="#151515" stroke-width="1"/>
<line x1="430.22" y1="251" x2="430.22" y2="254.4" stroke="#151515" stroke-width="1"/>
<line x1="428.92" y1="251.4" x2="431.52" y2="251.4" stroke="#151515" stroke-width="0.9"/>
<rect x="428.57" y="254.9" width="3.3" height="97.3" fill="#bdbdbd" stroke="#151515" stroke-width="1"/>
<line x1="444.29" y1="352.2" x2="444.29" y2="354.5" stroke="#333" stroke-width="1"/>
<text transform="translate(447.49,363.3) rotate(-45)" class="xl">IL6</text>
<rect x="437.24" y="259.32" width="3.3" height="92.88" fill="#fff" stroke="#151515" stroke-width="1"/>
<line x1="444.29" y1="259.28" x2="444.29" y2="261.12" stroke="#151515" stroke-width="1"/>
<line x1="442.99" y1="259.68" x2="445.59" y2="259.68" stroke="#151515" stroke-width="0.9"/>
<rect x="442.64" y="261.62" width="3.3" height="90.58" fill="#000" stroke="#151515" stroke-width="1"/>
<line x1="449.69" y1="251" x2="449.69" y2="255.51" stroke="#151515" stroke-width="1"/>
<line x1="448.39" y1="251.4" x2="450.99" y2="251.4" stroke="#151515" stroke-width="0.9"/>
<rect x="448.04" y="256.01" width="3.3" height="96.19" fill="#bdbdbd" stroke="#151515" stroke-width="1"/>
<line x1="463.76" y1="352.2" x2="463.76" y2="354.5" stroke="#333" stroke-width="1"/>
<text transform="translate(466.96,363.3) rotate(-45)" class="xl">IL10</text>
<line x1="483.23" y1="352.2" x2="483.23" y2="354.5" stroke="#333" stroke-width="1"/>
<text transform="translate(486.43,363.3) rotate(-45)" class="xl">IL12α</text>
<line x1="502.7" y1="352.2" x2="502.7" y2="354.5" stroke="#333" stroke-width="1"/>
<text transform="translate(505.9,363.3) rotate(-45)" class="xl">iNOS</text>
<path transform="translate(332.3,313.6)" d="M0,-2.2 L0.55,-0.75 L2.1,-0.7 L0.9,0.25 L1.3,1.8 L0,0.9 L-1.3,1.8 L-0.9,0.25 L-2.1,-0.7 L-0.55,-0.75 Z" fill="#222"/>
<path transform="translate(371.6,314.7)" d="M0,-2.2 L0.55,-0.75 L2.1,-0.7 L0.9,0.25 L1.3,1.8 L0,0.9 L-1.3,1.8 L-0.9,0.25 L-2.1,-0.7 L-0.55,-0.75 Z" fill="#222"/>
<text x="304.7" y="213.6" class="let">d</text>
<text x="361.1" y="212.4" class="ttl">U251</text>
<rect x="466.6" y="206.3" width="8.3" height="7.3" fill="#fff" stroke="#151515" stroke-width="1"/>
<text transform="translate(480.1,213.1) scale(1,1.07)" class="lg">Mock</text>
<rect x="466.6" y="216.1" width="8.3" height="7.3" fill="#000" stroke="#151515" stroke-width="1"/>
<text transform="translate(480.1,222.9) scale(1,1.07)" class="lg">PBS</text>
<rect x="466.6" y="225.9" width="8.3" height="7.3" fill="#bdbdbd" stroke="#151515" stroke-width="1"/>
<text transform="translate(480.1,232.7) scale(1,1.07)" class="lg">DZNep</text>
<text transform="translate(275.8,281.6) rotate(-90)" class="yl">Relative mRNA fold changes</text>
<line x1="557.8" y1="210.9" x2="557.8" y2="348.9" stroke="#333" stroke-width="1"/>
<line x1="555.6" y1="348.9" x2="557.8" y2="348.9" stroke="#333" stroke-width="1"/>
<text x="553.8" y="352.4" class="tk">0.0</text>
<line x1="555.6" y1="321.3" x2="557.8" y2="321.3" stroke="#333" stroke-width="1"/>
<text x="553.8" y="324.8" class="tk">0.5</text>
<line x1="555.6" y1="293.7" x2="557.8" y2="293.7" stroke="#333" stroke-width="1"/>
<text x="553.8" y="297.2" class="tk">1.0</text>
<line x1="555.6" y1="266.1" x2="557.8" y2="266.1" stroke="#333" stroke-width="1"/>
<text x="553.8" y="269.6" class="tk">1.5</text>
<line x1="555.6" y1="238.5" x2="557.8" y2="238.5" stroke="#333" stroke-width="1"/>
<text x="553.8" y="242" class="tk">2.0</text>
<line x1="555.6" y1="210.9" x2="557.8" y2="210.9" stroke="#333" stroke-width="1"/>
<text x="553.8" y="214.4" class="tk">2.5</text>
<line x1="557.3" y1="348.9" x2="774.4" y2="348.9" stroke="#333" stroke-width="1"/>
<line x1="568.4" y1="348.9" x2="568.4" y2="351.2" stroke="#333" stroke-width="1"/>
<text transform="translate(571.6,360) rotate(-45)" class="xl">TGFβ1</text>
<line x1="562.7" y1="291.49" x2="562.7" y2="293.15" stroke="#151515" stroke-width="1"/>
<line x1="561.4" y1="291.89" x2="564" y2="291.89" stroke="#151515" stroke-width="0.9"/>
<rect x="560.95" y="293.65" width="3.5" height="55.25" fill="#fff" stroke="#151515" stroke-width="1"/>
<rect x="566.65" y="294.42" width="3.5" height="54.48" fill="#000" stroke="#151515" stroke-width="1"/>
<rect x="572.35" y="305.24" width="3.5" height="43.66" fill="#bdbdbd" stroke="#151515" stroke-width="1"/>
<line x1="589.83" y1="348.9" x2="589.83" y2="351.2" stroke="#333" stroke-width="1"/>
<text transform="translate(593.03,360) rotate(-45)" class="xl">TGFβ2</text>
<line x1="584.13" y1="290.94" x2="584.13" y2="293.15" stroke="#151515" stroke-width="1"/>
<line x1="582.83" y1="291.34" x2="585.43" y2="291.34" stroke="#151515" stroke-width="0.9"/>
<rect x="582.38" y="293.65" width="3.5" height="55.25" fill="#fff" stroke="#151515" stroke-width="1"/>
<rect x="588.08" y="293.1" width="3.5" height="55.8" fill="#000" stroke="#151515" stroke-width="1"/>
<line x1="595.53" y1="299.39" x2="595.53" y2="305.29" stroke="#151515" stroke-width="1"/>
<line x1="594.23" y1="299.79" x2="596.83" y2="299.79" stroke="#151515" stroke-width="0.9"/>
<rect x="593.78" y="305.79" width="3.5" height="43.11" fill="#bdbdbd" stroke="#151515" stroke-width="1"/>
<line x1="611.26" y1="348.9" x2="611.26" y2="351.2" stroke="#333" stroke-width="1"/>
<text transform="translate(614.46,360) rotate(-45)" class="xl">TGFβ3</text>
<line x1="605.56" y1="290.11" x2="605.56" y2="293.7" stroke="#151515" stroke-width="1"/>
<line x1="604.26" y1="290.51" x2="606.86" y2="290.51" stroke="#151515" stroke-width="0.9"/>
<rect x="603.81" y="294.2" width="3.5" height="54.7" fill="#fff" stroke="#151515" stroke-width="1"/>
<rect x="609.51" y="294.2" width="3.5" height="54.7" fill="#000" stroke="#151515" stroke-width="1"/>
<rect x="615.21" y="285.92" width="3.5" height="62.98" fill="#bdbdbd" stroke="#151515" stroke-width="1"/>
<line x1="632.69" y1="348.9" x2="632.69" y2="351.2" stroke="#333" stroke-width="1"/>
<text transform="translate(635.89,360) rotate(-45)" class="xl">TNFα</text>
<line x1="654.12" y1="348.9" x2="654.12" y2="351.2" stroke="#333" stroke-width="1"/>
<text transform="translate(657.32,360) rotate(-45)" class="xl">IFNγ</text>
<line x1="675.55" y1="348.9" x2="675.55" y2="351.2" stroke="#333" stroke-width="1"/>
<text transform="translate(678.75,360) rotate(-45)" class="xl">IL1β</text>
<line x1="669.85" y1="288.18" x2="669.85" y2="292.87" stroke="#151515" stroke-width="1"/>
<line x1="668.55" y1="288.58" x2="671.15" y2="288.58" stroke="#151515" stroke-width="0.9"/>
<rect x="668.1" y="293.37" width="3.5" height="55.53" fill="#fff" stroke="#151515" stroke-width="1"/>
<line x1="675.55" y1="286.19" x2="675.55" y2="287.79" stroke="#151515" stroke-width="1"/>
<line x1="674.25" y1="286.59" x2="676.85" y2="286.59" stroke="#151515" stroke-width="0.9"/>
<rect x="673.8" y="288.29" width="3.5" height="60.61" fill="#000" stroke="#151515" stroke-width="1"/>
<line x1="681.25" y1="270.07" x2="681.25" y2="270.9" stroke="#151515" stroke-width="1"/>
<line x1="679.95" y1="270.47" x2="682.55" y2="270.47" stroke="#151515" stroke-width="0.9"/>
<rect x="679.5" y="271.4" width="3.5" height="77.5" fill="#bdbdbd" stroke="#151515" stroke-width="1"/>
<line x1="696.98" y1="348.9" x2="696.98" y2="351.2" stroke="#333" stroke-width="1"/>
<text transform="translate(700.18,360) rotate(-45)" class="xl">IL6</text>
<line x1="691.28" y1="290.94" x2="691.28" y2="292.87" stroke="#151515" stroke-width="1"/>
<line x1="689.98" y1="291.34" x2="692.58" y2="291.34" stroke="#151515" stroke-width="0.9"/>
<rect x="689.53" y="293.37" width="3.5" height="55.53" fill="#fff" stroke="#151515" stroke-width="1"/>
<line x1="696.98" y1="289.12" x2="696.98" y2="290.72" stroke="#151515" stroke-width="1"/>
<line x1="695.68" y1="289.52" x2="698.28" y2="289.52" stroke="#151515" stroke-width="0.9"/>
<rect x="695.23" y="291.22" width="3.5" height="57.68" fill="#000" stroke="#151515" stroke-width="1"/>
<line x1="702.68" y1="220.84" x2="702.68" y2="226.36" stroke="#151515" stroke-width="1"/>
<line x1="701.38" y1="221.24" x2="703.98" y2="221.24" stroke="#151515" stroke-width="0.9"/>
<rect x="700.93" y="226.86" width="3.5" height="122.04" fill="#bdbdbd" stroke="#151515" stroke-width="1"/>
<line x1="718.41" y1="348.9" x2="718.41" y2="351.2" stroke="#333" stroke-width="1"/>
<text transform="translate(721.61,360) rotate(-45)" class="xl">IL10</text>
<line x1="712.71" y1="286.52" x2="712.71" y2="292.1" stroke="#151515" stroke-width="1"/>
<line x1="711.41" y1="286.92" x2="714.01" y2="286.92" stroke="#151515" stroke-width="0.9"/>
<rect x="710.96" y="292.6" width="3.5" height="56.3" fill="#fff" stroke="#151515" stroke-width="1"/>
<line x1="718.41" y1="293.81" x2="718.41" y2="295.91" stroke="#151515" stroke-width="1"/>
<line x1="717.11" y1="294.21" x2="719.71" y2="294.21" stroke="#151515" stroke-width="0.9"/>
<rect x="716.66" y="296.41" width="3.5" height="52.49" fill="#000" stroke="#151515" stroke-width="1"/>
<line x1="724.11" y1="317.22" x2="724.11" y2="320.31" stroke="#151515" stroke-width="1"/>
<line x1="722.81" y1="317.62" x2="725.41" y2="317.62" stroke="#151515" stroke-width="0.9"/>
<rect x="722.36" y="320.81" width="3.5" height="28.09" fill="#bdbdbd" stroke="#151515" stroke-width="1"/>
<line x1="739.84" y1="348.9" x2="739.84" y2="351.2" stroke="#333" stroke-width="1"/>
<text transform="translate(743.04,360) rotate(-45)" class="xl">IL12α</text>
<line x1="761.27" y1="348.9" x2="761.27" y2="351.2" stroke="#333" stroke-width="1"/>
<text transform="translate(764.47,360) rotate(-45)" class="xl">iNOS</text>
<path transform="translate(574.2,290.1)" d="M0,-2.2 L0.55,-0.75 L2.1,-0.7 L0.9,0.25 L1.3,1.8 L0,0.9 L-1.3,1.8 L-0.9,0.25 L-2.1,-0.7 L-0.55,-0.75 Z" fill="#222"/>
<path transform="translate(595.7,286.2)" d="M0,-2.2 L0.55,-0.75 L2.1,-0.7 L0.9,0.25 L1.3,1.8 L0,0.9 L-1.3,1.8 L-0.9,0.25 L-2.1,-0.7 L-0.55,-0.75 Z" fill="#222"/>
<path transform="translate(680.5,253)" d="M0,-2.2 L0.55,-0.75 L2.1,-0.7 L0.9,0.25 L1.3,1.8 L0,0.9 L-1.3,1.8 L-0.9,0.25 L-2.1,-0.7 L-0.55,-0.75 Z" fill="#222"/>
<path transform="translate(702.8,209.4)" d="M0,-2.2 L0.55,-0.75 L2.1,-0.7 L0.9,0.25 L1.3,1.8 L0,0.9 L-1.3,1.8 L-0.9,0.25 L-2.1,-0.7 L-0.55,-0.75 Z" fill="#222"/>
<path transform="translate(724.2,293.3)" d="M0,-2.2 L0.55,-0.75 L2.1,-0.7 L0.9,0.25 L1.3,1.8 L0,0.9 L-1.3,1.8 L-0.9,0.25 L-2.1,-0.7 L-0.55,-0.75 Z" fill="#222"/>
<text x="564.9" y="213.6" class="let">f</text>
<text x="606.3" y="210.8" class="ttl">GL261</text>
<rect x="729.6" y="201.3" width="8.3" height="7.3" fill="#fff" stroke="#151515" stroke-width="1"/>
<text transform="translate(743.6,207.8) scale(1,1.07)" class="lg">Mock</text>
<rect x="729.6" y="211.1" width="8.3" height="7.3" fill="#000" stroke="#151515" stroke-width="1"/>
<text transform="translate(743.6,217.6) scale(1,1.07)" class="lg">PBS</text>
<rect x="729.6" y="220.9" width="8.3" height="7.3" fill="#bdbdbd" stroke="#151515" stroke-width="1"/>
<text transform="translate(743.6,227.4) scale(1,1.07)" class="lg">DZNep</text>
<text transform="translate(535.5,277.5) rotate(-90)" class="yl">Relative mRNA fold changes</text>
</svg></div>
</body></html>
